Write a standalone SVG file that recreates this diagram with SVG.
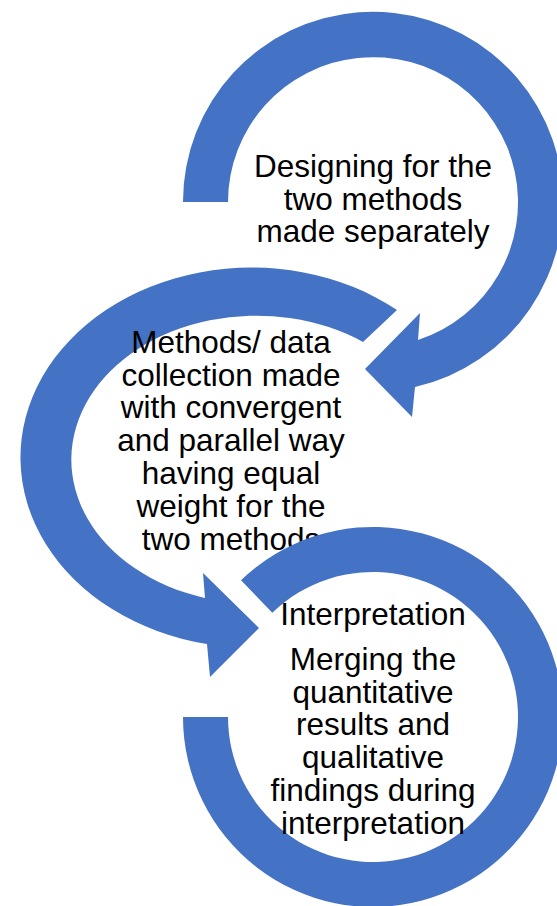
<svg xmlns="http://www.w3.org/2000/svg" width="557" height="906" viewBox="0 0 557 906">
<style>
.ring{fill:#4472C4;stroke:none}
.t{font-family:"Liberation Sans",Arial,sans-serif;font-size:31.5px;fill:#000;text-anchor:middle}
</style>
<rect width="557" height="906" fill="#fff"/>
<g id="node-design">
<path class="ring" d="M183,202 A190,190 0 1 1 415,387 L412,417 L365,369 L420,313 L418,340 A145,145 0 1 0 228,202 Z"/>
<text class="t" x="373" y="177">Designing for the</text>
<text class="t" x="373" y="209.5">two methods</text>
<text class="t" x="373" y="242">made separately</text>
</g>
<g id="node-collection">
<path class="ring" d="M397,310 A231,190 0 1 0 207,644 L210,677 L259,628 L203,573 L205,598 A185,144 0 1 1 363,342 Z"/>
<text class="t" x="231" y="353">Methods/ data</text>
<text class="t" x="231" y="386">collection made</text>
<text class="t" x="231" y="418">with convergent</text>
<text class="t" x="231" y="451">and parallel way</text>
<text class="t" x="231" y="484">having equal</text>
<text class="t" x="231" y="517">weight for the</text>
<text class="t" x="231" y="550">two methods</text>
</g>
<g id="node-interpretation">
<path class="ring" d="M183,717 A190,190 0 1 0 241,580.3 L272.3,612.7 A145,145 0 1 1 228,717 Z"/>
<text class="t" x="373" y="625">Interpretation</text>
<text class="t" x="373" y="670">Merging the</text>
<text class="t" x="373" y="703">quantitative</text>
<text class="t" x="373" y="735">results and</text>
<text class="t" x="373" y="768">qualitative</text>
<text class="t" x="373" y="801">findings during</text>
<text class="t" x="373" y="834">interpretation</text>
</g>
</svg>
